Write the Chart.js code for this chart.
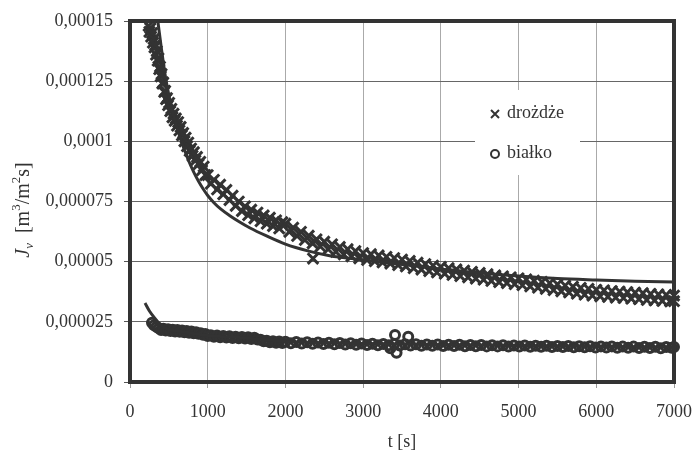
<!DOCTYPE html>
<html>
<head>
<meta charset="utf-8">
<script src="https://cdn.jsdelivr.net/npm/chart.js@4.4.1/dist/chart.umd.min.js"></script>
<style>
  html, body { margin: 0; padding: 0; background: #fff; }
  canvas { display: block; }
</style>
</head>
<body>
<canvas id="wykres" width="694" height="457"></canvas>
<script>
// czas t [s] i strumień Jv, wartości w jednostkach 1e-6 m3/m2s (odczyt z wykresu)
const drozdzeT = [240, 250, 262, 272, 285, 295, 305, 315, 325, 335, 345, 356, 366, 376, 386, 396, 406, 416, 428, 440,
  452, 464, 476, 490, 504, 518, 532, 546, 560, 575, 590, 605, 620, 636, 652, 668, 684, 700, 716, 733,
  750, 768, 786, 804, 822, 842, 862, 882, 904, 926, 948, 970,
  1000, 1040, 1080, 1120, 1160, 1200, 1240, 1280, 1320, 1360, 1400, 1440, 1480, 1520, 1560, 1600, 1640, 1680, 1720, 1760,
  1800, 1840, 1880, 1920, 1960,
  2000, 2050, 2100, 2150, 2200, 2250, 2300, 2350, 2400, 2450, 2500, 2550, 2600, 2650, 2700, 2750, 2800, 2850, 2900, 2950,
  3000, 3050, 3100, 3150, 3200, 3250, 3300, 3350, 3400, 3450, 3500, 3550, 3600, 3650, 3700, 3750, 3800, 3850, 3900, 3950,
  4000, 4050, 4100, 4150, 4200, 4250, 4300, 4350, 4400, 4450, 4500, 4550, 4600, 4650, 4700, 4750, 4800, 4850, 4900, 4950,
  5000, 5050, 5100, 5150, 5200, 5250, 5300, 5350, 5400, 5450, 5500, 5550, 5600, 5650, 5700, 5750, 5800, 5850, 5900, 5950,
  6000, 6050, 6100, 6150, 6200, 6250, 6300, 6350, 6400, 6450, 6500, 6550, 6600, 6650, 6700, 6750, 6800, 6850, 6900, 6950,
  7000, 7000, 2355];
const drozdzeJ = [148, 145.5, 147, 143.5, 145, 141, 142.5, 139, 140, 136, 137.5, 133.5, 134.5, 130, 131, 127, 128, 124, 124.5, 120.5,
  121, 117.5, 118, 115, 116, 112.5, 113.5, 110, 111.5, 108.5, 109.5, 106.5, 108, 104.5, 106, 102.5, 103.5, 100, 101.5, 98,
  99.5, 96, 97, 94, 95.5, 92, 93.5, 90.5, 91.5, 88, 89.5, 86,
  86.0, 82.4, 84.0, 80.0, 82.0, 78.0, 79.8, 75.6, 77.4, 73.2, 75.0, 71.0, 73.0, 69.3, 71.6, 68.0, 70.4, 66.8, 69.2, 65.8,
  68.3, 64.8, 67.2, 63.8, 66.4,
  65.8, 62.4, 64.1, 60.7, 62.4, 59.0, 60.8, 57.6, 59.3, 56.3, 58.3, 55.2, 57.2, 54.1, 56.1, 53.0, 55.2, 52.2, 54.4, 51.4,
  53.6, 50.7, 53.1, 50.2, 52.6, 49.7, 52.0, 49.2, 51.5, 48.6, 50.9, 48.0, 50.3, 47.3, 49.6, 46.7, 49.0, 46.1, 48.4, 45.5,
  47.8, 45.0, 47.3, 44.5, 46.8, 44.0, 46.3, 43.5, 45.8, 43.0, 45.3, 42.5, 44.8, 42.0, 44.3, 41.5, 43.9, 41.1, 43.5, 40.7,
  43.1, 40.2, 42.6, 39.7, 42.1, 39.2, 41.6, 38.7, 41.1, 38.2, 40.6, 37.7, 40.1, 37.2, 39.6, 36.7, 39.1, 36.3, 38.7, 35.9,
  38.3, 35.6, 38.1, 35.4, 37.8, 35.1, 37.6, 34.9, 37.3, 34.6, 37.1, 34.4, 36.9, 34.1, 36.6, 33.9, 36.4, 33.7, 36.2, 33.5,
  35.9, 33.6, 51.3];

const bialkoT = [283, 310, 340, 370, 400, 430, 460, 490, 520, 550, 580, 610, 640, 670, 700, 730, 760, 790, 820, 850,
  880, 910, 940, 970, 1000, 1040, 1080, 1120, 1160, 1200, 1240, 1280, 1320, 1360, 1400, 1440, 1480, 1520, 1560, 1600,
  1640, 1680, 1720, 1760, 1800, 1840, 1880, 1920, 1960, 2000, 2070, 2140, 2210, 2280, 2350, 2420, 2490, 2560, 2630, 2700,
  2770, 2840, 2910, 2980, 3050, 3120, 3190, 3260, 3330, 3400, 3470, 3540, 3610, 3680, 3750, 3820, 3890, 3960, 4030, 4100,
  4170, 4240, 4310, 4380, 4450, 4520, 4590, 4660, 4730, 4800, 4870, 4940, 5010, 5080, 5150, 5220, 5290, 5360, 5430, 5500,
  5570, 5640, 5710, 5780, 5850, 5920, 5990, 6060, 6130, 6200, 6270, 6340, 6410, 6480, 6550, 6620, 6690, 6760, 6830, 6900,
  6970, 7000, 3410, 3580, 3430, 3350];
const bialkoJ = [24.6, 23.6, 23.0, 22.3, 21.6, 22.1, 21.4, 21.9, 21.2, 21.7, 21.0, 21.6, 20.9, 21.4, 20.7, 21.2, 20.5, 21.0, 20.3, 20.7,
  20.0, 20.3, 19.6, 19.9, 19.1, 19.4, 18.8, 19.3, 18.6, 19.1, 18.5, 19.0, 18.3, 18.8, 18.2, 18.7, 18.1, 18.6, 17.9, 18.4,
  17.7, 17.6, 16.9, 17.1, 16.5, 16.9, 16.3, 16.8, 16.2, 16.7, 16.1, 16.6, 16.0, 16.5, 15.9, 16.4, 15.8, 16.3, 15.7, 16.2,
  15.6, 16.1, 15.5, 16.0, 15.4, 15.9, 15.3, 15.8, 15.3, 15.8, 15.2, 15.7, 15.2, 15.7, 15.1, 15.6, 15.1, 15.6, 15.0, 15.5,
  15.0, 15.5, 14.9, 15.4, 14.9, 15.4, 14.8, 15.3, 14.8, 15.3, 14.7, 15.2, 14.7, 15.2, 14.6, 15.1, 14.6, 15.1, 14.5, 15.0,
  14.5, 15.0, 14.4, 14.9, 14.4, 14.9, 14.3, 14.8, 14.3, 14.8, 14.2, 14.7, 14.2, 14.7, 14.1, 14.6, 14.1, 14.6, 14.0, 14.5,
  14.2, 14.5, 19.5, 18.8, 12.2, 14.0];

// krzywe dopasowania
const fitDrozdzeT = [358, 400, 460, 550, 640, 700, 760, 820, 880, 940, 1000, 1080, 1170, 1280, 1400, 1545, 1750, 2000, 2300, 2570,
  3000, 3500, 4000, 4500, 5000, 5500, 6000, 6500, 7000];
const fitDrozdzeJ = [150, 139.5, 126, 112, 102, 96.5, 91.5, 87.2, 83.5, 80.3, 77.5, 74.5, 71.8, 69.2, 66.7, 64, 60.8, 57.3, 54.4, 52.5,
  50.8, 48.8, 47, 45.3, 44, 43, 42.4, 41.9, 41.6];
const fitBialkoT = [193, 250, 322, 400, 500, 700, 1000, 1500, 2000, 3000, 4000, 5000, 6000, 7000];
const fitBialkoJ = [32.8, 29.5, 26.4, 23.5, 21.8, 20.8, 19.3, 18.3, 16.8, 16, 15.5, 15.1, 14.7, 14.4];

const seriesNames = ['drożdże', 'białko'];
const xTicks = [0, 1000, 2000, 3000, 4000, 5000, 6000, 7000];
const yTicks = [0, 0.000025, 0.00005, 0.000075, 0.0001, 0.000125, 0.00015];
const yTickLabels = ['0', '0,000025', '0,00005', '0,000075', '0,0001', '0,000125', '0,00015'];

const SERIF = '"Liberation Serif", "Times New Roman", serif';
const ink = '#333333';

function toPoints(t, j) {
  return t.map((x, i) => ({ x: x, y: j[i] * 1e-6 }));
}

// ramka wykresu
const ramka = {
  id: 'ramka',
  afterDatasetsDraw(chart) {
    const { ctx, chartArea: a } = chart;
    ctx.save();
    ctx.strokeStyle = ink;
    ctx.lineWidth = 4;
    ctx.strokeRect(a.left, a.top, a.right - a.left, a.bottom - a.top);
    ctx.restore();
  }
};

// legenda wewnątrz pola wykresu
const legenda = {
  id: 'legenda',
  afterDraw(chart) {
    const { ctx, chartArea: a } = chart;
    const left = a.left + 345, top = a.top + 69;
    ctx.save();
    ctx.fillStyle = '#fff';
    ctx.fillRect(left, top, 105, 85);
    ctx.strokeStyle = ink;
    ctx.lineWidth = 2;
    const mx = left + 20;
    let my = top + 24;
    ctx.beginPath();
    ctx.moveTo(mx - 4, my - 4); ctx.lineTo(mx + 4, my + 4);
    ctx.moveTo(mx + 4, my - 4); ctx.lineTo(mx - 4, my + 4);
    ctx.stroke();
    my = top + 64;
    ctx.beginPath();
    ctx.arc(mx, my, 4, 0, Math.PI * 2);
    ctx.fillStyle = '#fff';
    ctx.fill();
    ctx.stroke();
    ctx.fillStyle = ink;
    ctx.font = '18px ' + SERIF;
    ctx.textBaseline = 'middle';
    ctx.textAlign = 'left';
    ctx.fillText(seriesNames[0], left + 32, top + 23);
    ctx.fillText(seriesNames[1], left + 32, top + 63);
    ctx.restore();
  }
};

// opis osi Y z indeksami
const tytulY = {
  id: 'tytulY',
  afterDraw(chart) {
    const { ctx } = chart;
    const parts = [
      { t: 'J', f: 'italic 20px ' + SERIF, dy: 0 },
      { t: 'v', f: 'italic 13px ' + SERIF, dy: 4 },
      { t: '  [m', f: '20px ' + SERIF, dy: 0 },
      { t: '3', f: '13px ' + SERIF, dy: -9 },
      { t: '/m', f: '20px ' + SERIF, dy: 0 },
      { t: '2', f: '13px ' + SERIF, dy: -9 },
      { t: 's]', f: '20px ' + SERIF, dy: 0 }
    ];
    ctx.save();
    let total = 0;
    parts.forEach(p => { ctx.font = p.f; p.w = ctx.measureText(p.t).width; total += p.w; });
    ctx.translate(29, 210);
    ctx.rotate(-Math.PI / 2);
    ctx.fillStyle = ink;
    ctx.textBaseline = 'alphabetic';
    ctx.textAlign = 'left';
    let x = -total / 2;
    parts.forEach(p => { ctx.font = p.f; ctx.fillText(p.t, x, p.dy); x += p.w; });
    ctx.restore();
  }
};

new Chart(document.getElementById('wykres'), {
  type: 'scatter',
  data: {
    datasets: [
      {
        label: 'dopasowanie drożdże',
        data: toPoints(fitDrozdzeT, fitDrozdzeJ),
        showLine: true,
        pointRadius: 0,
        borderColor: ink,
        borderWidth: 3,
        cubicInterpolationMode: 'monotone',
        clip: false
      },
      {
        label: 'dopasowanie białko',
        data: toPoints(fitBialkoT, fitBialkoJ),
        showLine: true,
        pointRadius: 0,
        borderColor: ink,
        borderWidth: 3,
        cubicInterpolationMode: 'monotone',
        clip: false
      },
      {
        label: seriesNames[0],
        data: toPoints(drozdzeT, drozdzeJ),
        pointStyle: 'crossRot',
        pointRadius: 7.5,
        borderWidth: 3,
        borderColor: ink,
        backgroundColor: ink,
        clip: false
      },
      {
        label: seriesNames[1],
        data: toPoints(bialkoT, bialkoJ),
        pointStyle: 'circle',
        pointRadius: 4.5,
        borderWidth: 3,
        borderColor: ink,
        backgroundColor: 'rgba(255,255,255,0)',
        clip: false
      }
    ]
  },
  options: {
    responsive: false,
    devicePixelRatio: 1,
    animation: false,
    events: [],
    layout: { padding: { top: 21, right: 20, bottom: 0, left: 0 } },
    scales: {
      x: {
        type: 'linear',
        min: 0,
        max: 7000,
        afterBuildTicks: s => { s.ticks = xTicks.map(v => ({ value: v })); },
        afterFit: s => { s.height = 75; s.paddingLeft = 0; s.paddingRight = 0; },
        ticks: {
          callback: v => String(v),
          font: { family: SERIF, size: 18 },
          color: ink,
          padding: 13,
          maxRotation: 0
        },
        grid: { color: '#aaaaaa', lineWidth: 1, tickLength: 6, tickColor: '#999999' },
        border: { display: false },
        title: {
          display: true,
          text: 't [s]',
          font: { family: SERIF, size: 18 },
          color: ink,
          padding: { top: 0, bottom: 4 }
        }
      },
      y: {
        min: 0,
        max: 0.00015,
        afterBuildTicks: s => { s.ticks = yTicks.map(v => ({ value: v })); },
        afterFit: s => { s.width = 130; s.paddingTop = 0; s.paddingBottom = 0; },
        ticks: {
          callback: (v, i) => yTickLabels[i],
          font: { family: SERIF, size: 18 },
          color: ink,
          padding: 11
        },
        grid: { color: '#666666', lineWidth: 1, tickLength: 6, tickColor: '#555555' },
        border: { display: false }
      }
    },
    plugins: {
      legend: { display: false },
      tooltip: { enabled: false }
    }
  },
  plugins: [ramka, legenda, tytulY]
});
</script>
</body>
</html>
